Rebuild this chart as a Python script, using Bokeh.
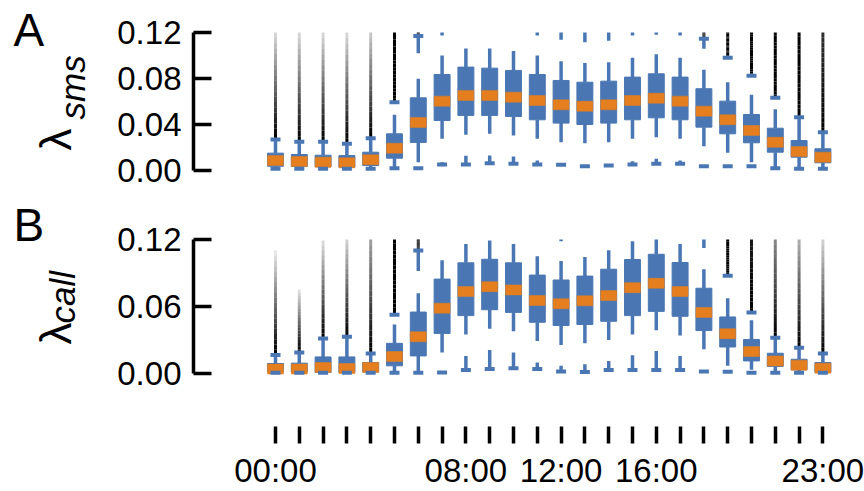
import math
from bokeh.plotting import figure
from bokeh.layouts import column, row
from bokeh.models import Range1d, FixedTicker, PrintfTickFormatter
from bokeh.core.properties import value
from bokeh.embed import file_html
from bokeh.resources import INLINE

NA = float("nan")

hours = list(range(24))
x_tick_labels = {0: "00:00", 8: "08:00", 12: "12:00", 16: "16:00", 23: "23:00"}
ticks_sms = [0.0, 0.04, 0.08, 0.12]
ticks_call = [0.0, 0.06, 0.12]

# ---------------- Panel A : lambda_sms ----------------
sms_q1 = [0.0037, 0.0035, 0.0032, 0.0029, 0.0043, 0.0107, 0.0244, 0.0435, 0.0479, 0.0479, 0.0470, 0.0441,
          0.0412, 0.0400, 0.0412, 0.0441, 0.0458, 0.0441, 0.0377, 0.0319, 0.0241, 0.0159, 0.0116, 0.0067]
sms_med = [0.0087, 0.0078, 0.0072, 0.0067, 0.0093, 0.0194, 0.0418, 0.0603, 0.0653, 0.0653, 0.0638, 0.0609,
           0.0571, 0.0559, 0.0571, 0.0609, 0.0629, 0.0603, 0.0516, 0.0441, 0.0348, 0.0246, 0.0165, 0.0116]
sms_q3 = [0.0151, 0.0139, 0.0133, 0.0130, 0.0159, 0.0319, 0.0632, 0.0835, 0.0899, 0.0890, 0.0870, 0.0835,
          0.0783, 0.0768, 0.0777, 0.0812, 0.0841, 0.0812, 0.0711, 0.0603, 0.0487, 0.0368, 0.0261, 0.0189]
sms_whi = [0.0270, 0.0250, 0.0250, 0.0232, 0.0281, 0.0485, 0.0797, 0.1000, 0.1060, 0.1060, 0.1040, 0.1000,
           0.0951, 0.0934, 0.0942, 0.0980, 0.1010, 0.0980, 0.0876, 0.0768, 0.0658, 0.0533, 0.0464, 0.0333]
sms_wlo = [0.0015, 0.0015, 0.0015, 0.0015, 0.0015, 0.0020, 0.0072, 0.0276, 0.0310, 0.0319, 0.0305, 0.0276,
           0.0246, 0.0238, 0.0246, 0.0276, 0.0290, 0.0276, 0.0211, 0.0154, 0.0072, 0.0020, 0.0015, 0.0015]
sms_lo_top = [0.0015, 0.0015, 0.0015, 0.0015, 0.0015, 0.0020, 0.0020, 0.0072, 0.0128, 0.0130, 0.0122, 0.0087,
              0.0049, 0.0037, 0.0055, 0.0081, 0.0102, 0.0087, 0.0037, 0.0037, 0.0037, 0.0020, 0.0015, 0.0015]
sms_lo_dash = [0.0015, 0.0015, 0.0015, 0.0015, 0.0015, 0.0020, 0.0020, 0.0052, 0.0052, 0.0064, 0.0058, 0.0052,
               0.0049, 0.0037, 0.0043, 0.0052, 0.0058, 0.0058, 0.0037, 0.0037, 0.0037, 0.0020, 0.0015, 0.0015]
sms_hi_dash = [0.0270, 0.0250, 0.0250, 0.0232, 0.0281, 0.0594, 0.1170, NA, NA, NA, NA, NA,
               NA, NA, NA, NA, NA, NA, 0.1145, 0.0980, 0.0824, 0.0632, 0.0464, 0.0333]
sms_trail_top = [0.12] * 24
sms_trail_fade = [0.12, 0.12, 0.12, 0.12, 0.18, 1, 1, 1, 1, 1, 1, 1,
                  1, 1, 1, 1, 1, 1, 1, 1, 1, 1, 1, 0.8]
sms_up_lo = [NA, NA, NA, NA, NA, NA, 0.1020, 0.1175, NA, NA, NA, 0.1175,
             0.1137, 0.1116, 0.1128, 0.1175, 0.1180, 0.1175, 0.1059, NA, NA, NA, NA, NA]

# ---------------- Panel B : lambda_call ----------------
call_q1 = [0.0010, 0.0010, 0.0006, 0.0006, 0.0010, 0.0065, 0.0154, 0.0356, 0.0516, 0.0569, 0.0545, 0.0456,
           0.0427, 0.0436, 0.0465, 0.0516, 0.0554, 0.0510, 0.0382, 0.0234, 0.0109, 0.0060, 0.0029, 0.0006]
call_med = [0.0036, 0.0036, 0.0050, 0.0041, 0.0050, 0.0148, 0.0326, 0.0583, 0.0732, 0.0776, 0.0747, 0.0652,
            0.0622, 0.0649, 0.0696, 0.0767, 0.0806, 0.0732, 0.0545, 0.0353, 0.0193, 0.0109, 0.0071, 0.0044]
call_q3 = [0.0086, 0.0089, 0.0145, 0.0145, 0.0095, 0.0267, 0.0548, 0.0844, 0.0990, 0.1022, 0.0990, 0.0880,
           0.0836, 0.0871, 0.0933, 0.1020, 0.1067, 0.0993, 0.0762, 0.0504, 0.0302, 0.0178, 0.0124, 0.0095]
call_whi = [0.0163, 0.0184, 0.0311, 0.0326, 0.0175, 0.0436, 0.0717, 0.1013, 0.1160, 0.1190, 0.1160, 0.1049,
            0.1007, 0.1043, 0.1102, 0.1185, 0.1200, 0.1160, 0.0933, 0.0673, 0.0474, 0.0317, 0.0228, 0.0175]
call_wlo = [0.0003, 0.0003, 0.0003, 0.0003, 0.0003, 0.0003, 0.0003, 0.0184, 0.0347, 0.0397, 0.0376, 0.0287,
            0.0252, 0.0267, 0.0296, 0.0347, 0.0385, 0.0338, 0.0213, 0.0065, 0.0030, 0.0003, 0.0003, 0.0003]
call_lo_top = [0.0003, 0.0003, 0.0003, 0.0003, 0.0003, 0.0003, 0.0003, 0.0006, 0.0154, 0.0207, 0.0184, 0.0095,
               0.0065, 0.0080, 0.0109, 0.0160, 0.0198, 0.0154, 0.0015, 0.0012, 0.0003, 0.0003, 0.0003, 0.0003]
call_lo_dash = [0.0003, 0.0003, 0.0003, 0.0003, 0.0003, 0.0003, 0.0003, 0.0006, 0.0027, 0.0036, 0.0044, 0.0036,
                0.0015, 0.0010, 0.0027, 0.0027, 0.0027, 0.0027, 0.0015, 0.0012, 0.0003, 0.0003, 0.0003, 0.0003]
call_hi_dash = [0.0163, 0.0184, 0.0311, 0.0326, 0.0175, 0.0524, 0.1100, NA, NA, NA, NA, NA,
                NA, NA, NA, NA, NA, NA, NA, 0.0874, 0.0545, 0.0317, 0.0228, 0.0175]
call_trail_top = [0.110, 0.075, 0.119, 0.12, 0.12, 0.12, 0.12, 0.12, 0.12, 0.12, 0.12, 0.12,
                  0.12, 0.12, 0.12, 0.12, 0.12, 0.12, 0.12, 0.12, 0.12, 0.12, 0.12, 0.12]
call_trail_fade = [0.05, 0.08, 0.10, 0.15, 0.35, 1, 1, 1, 1, 1, 1, 1,
                   1, 1, 1, 1, 1, 1, 1, 1, 0.9, 0.45, 0.3, 0.15]
call_up_lo = [NA, NA, NA, NA, NA, NA, 0.0916, NA, NA, NA, NA, NA,
              0.1185, NA, NA, NA, NA, NA, 0.1123, NA, NA, NA, NA, NA]

BLUE = "#4a77b3"
ORANGE = "#e57e1f"
FONT = "Liberation Sans"
BOX_W = 0.67
LABEL_W = 110
PLOT_W = 864 - LABEL_W
TOTAL_H = 491

x_range = Range1d(-3.445, 24.16)


def isnum(v):
    return not (isinstance(v, float) and math.isnan(v))


def make_panel(height, btop, bbottom, y_range, ticks, show_x):
    p = figure(width=PLOT_W, height=height, x_range=x_range, y_range=y_range,
               output_backend="svg", toolbar_location=None, title_location=None,
               min_border_left=193 - LABEL_W, min_border_right=14,
               min_border_top=btop, min_border_bottom=bbottom,
               x_axis_location="below" if show_x else None)
    p.outline_line_color = None
    p.xgrid.visible = False
    p.ygrid.visible = False
    p.background_fill_color = "white"
    p.border_fill_color = "white"
    ax = p.yaxis[0]
    ax.ticker = FixedTicker(ticks=ticks)
    ax.formatter = PrintfTickFormatter(format="%.2f")
    ax.bounds = (0, 0.12)
    ax.axis_line_width = 3.5
    ax.axis_line_color = "black"
    ax.major_tick_line_width = 3.5
    ax.major_tick_in = 18
    ax.major_tick_out = 0
    ax.minor_tick_line_color = None
    ax.major_label_standoff = 12
    ax.major_label_text_font = FONT
    ax.major_label_text_font_size = "33px"
    ax.major_label_text_color = "black"
    if show_x:
        xa = p.xaxis[0]
        xa.ticker = FixedTicker(ticks=hours)
        xa.major_label_overrides = {h: x_tick_labels.get(h, "") for h in hours}
        xa.axis_line_color = None
        xa.major_tick_line_width = 3.5
        xa.major_tick_in = 0
        xa.major_tick_out = 17
        xa.minor_tick_line_color = None
        xa.major_label_standoff = 8
        xa.major_label_text_font = FONT
        xa.major_label_text_font_size = "33px"
        xa.major_label_text_color = "black"
    return p


def draw(p, q1, med, q3, whi, wlo, lo_top, lo_dash, hi_dash, trail_top, trail_fade, up_lo):
    # dense high outliers: black trails fading upwards
    tx, ty0, ty1, ta = [], [], [], []
    n = 20
    for h in hours:
        if isnum(hi_dash[h]):
            a, b = hi_dash[h], trail_top[h]
            for i in range(n):
                t0, t1 = i / n, (i + 1) / n
                tx.append(h)
                ty0.append(a + (b - a) * t0)
                ty1.append(a + (b - a) * t1)
                ta.append(1 - (1 - trail_fade[h]) * t0)
    p.segment(x0=tx, y0=ty0, x1=tx, y1=ty1, line_color="black", line_alpha=ta, line_width=3)

    # blue outlier stubs near the top
    ux, uy0, uy1 = [], [], []
    for h in hours:
        if isnum(up_lo[h]):
            ux.append(h)
            uy0.append(up_lo[h])
            uy1.append(hi_dash[h] if isnum(hi_dash[h]) else 0.12)
    p.segment(x0=ux, y0=uy0, x1=ux, y1=uy1, line_color=BLUE, line_width=3.5)

    # low outlier stubs, whiskers, boxes, medians, dashes
    p.segment(x0=hours, y0=lo_dash, x1=hours, y1=lo_top, line_color=BLUE, line_width=3.5)
    p.segment(x0=hours, y0=q3, x1=hours, y1=whi, line_color=BLUE, line_width=3.5)
    p.segment(x0=hours, y0=q1, x1=hours, y1=wlo, line_color=BLUE, line_width=3.5)
    p.vbar(x=hours, width=BOX_W, bottom=q1, top=q3, fill_color=BLUE, line_color=BLUE, line_width=1)
    p.rect(x=hours, y=med, width=BOX_W, height=10, height_units="screen",
           fill_color=ORANGE, line_color=ORANGE, line_width=0.5)
    p.rect(x=hours, y=lo_dash, width=10, height=4, width_units="screen", height_units="screen",
           fill_color=BLUE, line_color=None)
    hx = [h for h in hours if isnum(hi_dash[h])]
    hy = [hi_dash[h] for h in hours if isnum(hi_dash[h])]
    p.rect(x=hx, y=hy, width=10, height=4, width_units="screen", height_units="screen",
           fill_color=BLUE, line_color=None)


# label strip on the left, one figure for the full height; y counts pixels from the top
lab = figure(width=LABEL_W, height=TOTAL_H, x_range=Range1d(0, LABEL_W), y_range=Range1d(TOTAL_H, 0),
             output_backend="svg", toolbar_location=None, title_location=None,
             x_axis_location=None, y_axis_location=None,
             min_border_left=0, min_border_right=0, min_border_top=0, min_border_bottom=0)
lab.outline_line_color = None
lab.xgrid.visible = False
lab.ygrid.visible = False

panel_letters = ["A", "B"]
letter_x = [13, 13]
letter_y = [29, 224]
lam_x = [55, 55]
lam_y = [150, 344]
sub_texts = ["sms", "call"]
sub_x = [72, 62]
sub_y = [119, 323]

lab.text(x=letter_x, y=letter_y, text=panel_letters, text_font=value(FONT),
         text_font_size="46px", text_color="black", text_align="left", text_baseline="alphabetic")
lab.text(x=lam_x, y=lam_y, text=["λ", "λ"], angle=math.pi / 2, text_font=value(FONT),
         text_font_size="44px", text_color="black", text_align="left", text_baseline="alphabetic")
lab.text(x=sub_x, y=sub_y, text=sub_texts, angle=math.pi / 2, text_font=value(FONT),
         text_font_size="35px", text_font_style="italic", text_color="black",
         text_align="left", text_baseline="alphabetic")

pA = make_panel(200, 28, 22, Range1d(-0.00696, 0.12348), ticks_sms, False)
draw(pA, sms_q1, sms_med, sms_q3, sms_whi, sms_wlo, sms_lo_top, sms_lo_dash,
     sms_hi_dash, sms_trail_top, sms_trail_fade, sms_up_lo)

pB = make_panel(291, 35, 63, Range1d(-0.048, 0.12356), ticks_call, True)
draw(pB, call_q1, call_med, call_q3, call_whi, call_wlo, call_lo_top, call_lo_dash,
     call_hi_dash, call_trail_top, call_trail_fade, call_up_lo)

layout = row(lab, column(pA, pB, spacing=0), spacing=0)
open("out.html", "w").write(file_html(layout, INLINE))
